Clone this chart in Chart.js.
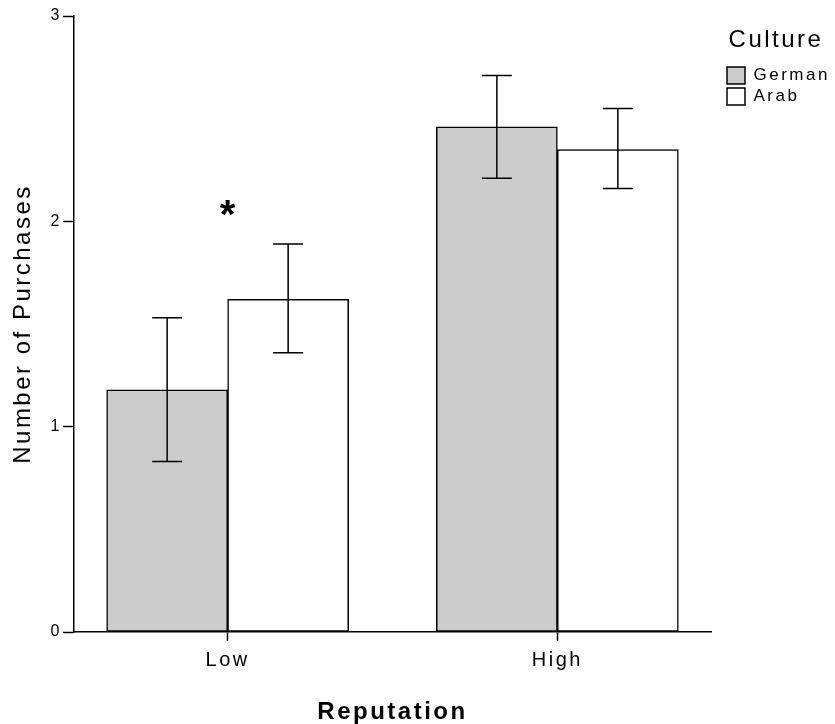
<!DOCTYPE html>
<html>
<head>
<meta charset="utf-8">
<title>Number of Purchases by Reputation and Culture</title>
<script src="https://cdn.jsdelivr.net/npm/chart.js"></script>
<style>
    html, body { margin: 0; padding: 0; background: #fff; }
    canvas { display: block; }
</style>
</head>
<body>
<canvas id="purchasesChart" width="835" height="724"></canvas>
<script>
const reputationLevels = ['Low', 'High'];
const cultures = ['German', 'Arab'];

const germanMeans = [1.18, 2.46];
const germanErrLow = [0.83, 2.21];
const germanErrHigh = [1.53, 2.71];

const arabMeans = [1.62, 2.35];
const arabErrLow = [1.36, 2.16];
const arabErrHigh = [1.89, 2.55];

const yTicks = [0, 1, 2, 3];
// significance star above the Low group
const significance = [{ x: 0, y: 2.02, label: '*' }];

const TRACKING = '2.5px';
const AXIS_LEFT = 74;
const AXIS_RIGHT = 711;

Chart.defaults.font.family = '"Liberation Sans", Arial, sans-serif';
Chart.defaults.color = '#000';

function toPoints(values) {
    return values.map((v, i) => ({ x: i, y: v }));
}

// the reference uses wide letter spacing on every label
const textTracking = {
    id: 'textTracking',
    beforeUpdate(chart) { chart.ctx.letterSpacing = TRACKING; },
    beforeDraw(chart) { chart.ctx.letterSpacing = TRACKING; },
    afterLayout(chart) {
        const lg = chart.legend;
        lg.left = chart.chartArea.right + 12;
        lg.width = 106;
        lg.right = lg.left + lg.width;
    }
};

const errorBars = {
    id: 'errorBars',
    afterDatasetsDraw(chart) {
        const ctx = chart.ctx;
        const yScale = chart.scales.y;
        const xScale = chart.scales.x;
        ctx.save();
        ctx.strokeStyle = '#000';
        ctx.lineWidth = 1.5;
        chart.data.datasets.forEach((ds, di) => {
            const meta = chart.getDatasetMeta(di);
            meta.data.forEach((bar, i) => {
                const top = yScale.getPixelForValue(ds.errHigh[i]);
                const bottom = yScale.getPixelForValue(ds.errLow[i]);
                ctx.beginPath();
                ctx.moveTo(bar.x, top);
                ctx.lineTo(bar.x, bottom);
                ctx.moveTo(bar.x - 15, top);
                ctx.lineTo(bar.x + 15, top);
                ctx.moveTo(bar.x - 15, bottom);
                ctx.lineTo(bar.x + 15, bottom);
                ctx.stroke();
            });
        });

        ctx.letterSpacing = '0px';
        ctx.fillStyle = '#000';
        ctx.font = 'bold 40px "Liberation Sans", Arial, sans-serif';
        ctx.textAlign = 'center';
        ctx.textBaseline = 'middle';
        significance.forEach((s) => {
            ctx.fillText(s.label, xScale.getPixelForValue(s.x), yScale.getPixelForValue(s.y));
        });
        ctx.restore();
    }
};

const ctx = document.getElementById('purchasesChart').getContext('2d');
const chart = new Chart(ctx, {
    type: 'bar',
    data: {
        datasets: [
            {
                label: cultures[0],
                data: toPoints(germanMeans),
                errLow: germanErrLow,
                errHigh: germanErrHigh,
                backgroundColor: '#cccccc',
                borderColor: '#000',
                borderWidth: 1.5,
                borderSkipped: false
            },
            {
                label: cultures[1],
                data: toPoints(arabMeans),
                errLow: arabErrLow,
                errHigh: arabErrHigh,
                backgroundColor: '#ffffff',
                borderColor: '#000',
                borderWidth: 1.5,
                borderSkipped: false
            }
        ]
    },
    options: {
        responsive: false,
        animation: false,
        barThickness: 121,
        layout: {
            padding: { top: 16, left: 0, right: 0, bottom: 0 }
        },
        plugins: {
            tooltip: { enabled: false },
            legend: {
                position: 'right',
                align: 'start',
                title: {
                    display: true,
                    text: 'Culture',
                    font: { size: 24 },
                    padding: { top: 12.5, bottom: 5.7 }
                },
                labels: {
                    boxWidth: 18,
                    boxHeight: 17,
                    padding: 4,
                    font: { size: 17 }
                }
            }
        },
        scales: {
            x: {
                type: 'linear',
                min: -0.466,
                max: 1.466,
                offset: false,
                afterBuildTicks: (scale) => {
                    scale.ticks = reputationLevels.map((_, i) => ({ value: i }));
                },
                afterFit: (scale) => { scale.height = 92; },
                ticks: {
                    font: { size: 20 },
                    padding: 7,
                    maxRotation: 0,
                    callback: (v) => reputationLevels[v]
                },
                grid: {
                    offset: false,
                    drawOnChartArea: false,
                    tickLength: 9,
                    tickColor: '#000',
                    tickWidth: 1.5
                },
                border: { color: '#000', width: 1.5 },
                title: {
                    display: true,
                    text: 'Reputation',
                    font: { size: 24, weight: 'bold', lineHeight: 1 },
                    padding: { top: 0, bottom: 0 }
                }
            },
            y: {
                min: 0,
                max: 3,
                afterBuildTicks: (scale) => {
                    scale.ticks = yTicks.map((v) => ({ value: v }));
                },
                afterFit: (scale) => { scale.width = AXIS_LEFT; },
                ticks: {
                    font: { size: 16 },
                    padding: 1
                },
                grid: {
                    drawOnChartArea: false,
                    tickLength: 11,
                    tickColor: '#000',
                    tickWidth: 1.5
                },
                border: { color: '#000', width: 1.5 },
                title: {
                    display: true,
                    text: 'Number of Purchases',
                    font: { size: 24 },
                    padding: { top: 9, bottom: 0 }
                }
            }
        }
    },
    plugins: [textTracking, errorBars]
});

// line the x axis end up with the reference
const shift = chart.chartArea.right - AXIS_RIGHT;
if (Math.abs(shift) > 0.5) {
    chart.options.layout.padding.right += shift;
    chart.update('none');
}
</script>
</body>
</html>
